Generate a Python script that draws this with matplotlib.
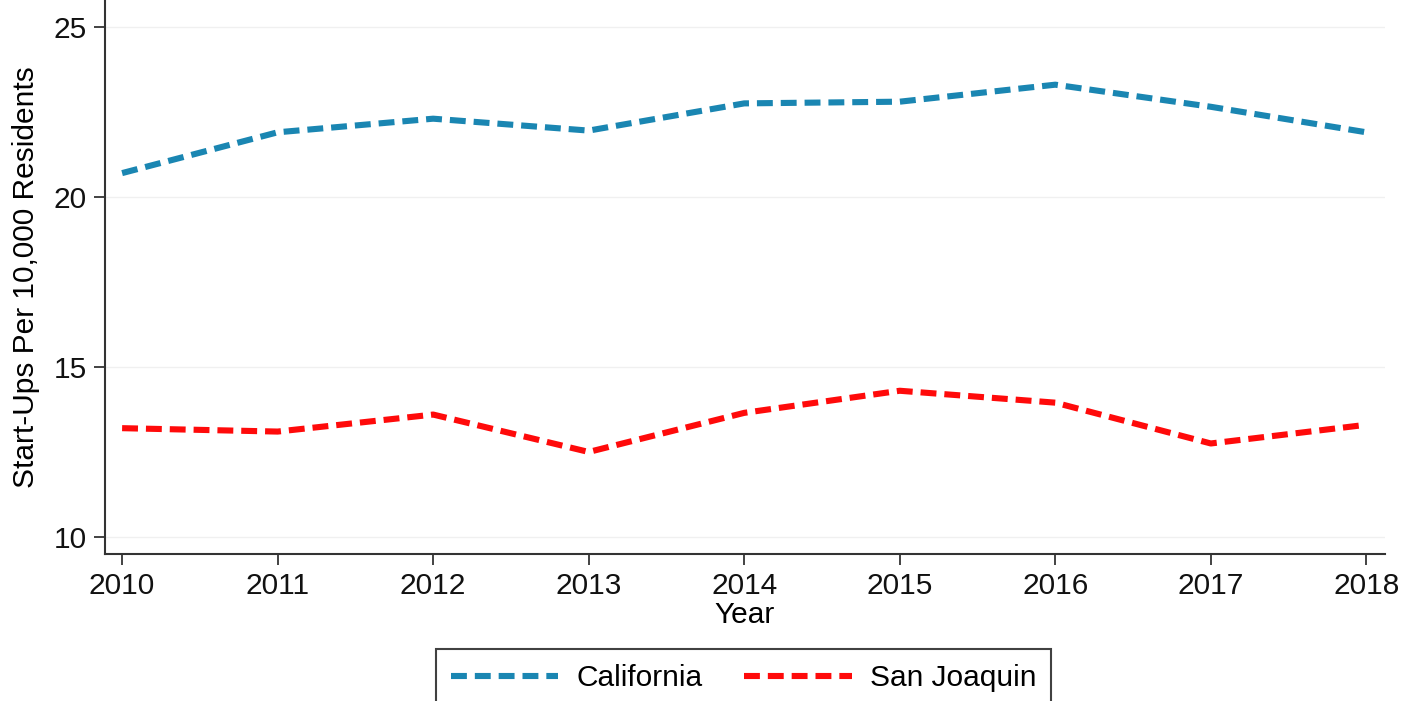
import matplotlib.pyplot as plt

plt.rcParams['font.family'] = ['Liberation Sans', 'DejaVu Sans']

years = [2010, 2011, 2012, 2013, 2014, 2015, 2016, 2017, 2018]
california = [20.7, 21.9, 22.3, 21.95, 22.75, 22.8, 23.3, 22.65, 21.9]
san_joaquin = [13.2, 13.1, 13.6, 12.5, 13.65, 14.3, 13.95, 12.75, 13.3]
y_ticks = [10, 15, 20, 25]

fig = plt.figure(figsize=(14.15, 7.01), dpi=100)
ax = fig.add_axes([0.0742, 0.2097, 0.9046, 0.7903])

ax.plot(years, california, color="#1a86b2", lw=4.4, dashes=[2.6, 1.3],
        label="California", dash_capstyle="butt")
ax.plot(years, san_joaquin, color="#ff0a0a", lw=4.4, dashes=[2.6, 1.3],
        label="San Joaquin", dash_capstyle="butt")

ax.set_xlim(2009.89, 2018.12)
ax.set_ylim(9.5, 25.79)
ax.set_xticks(years)
ax.set_yticks(y_ticks)
ax.tick_params(axis="both", labelsize=21.5, length=8, width=1.2, colors="#222222")
ax.tick_params(axis="y", pad=5)
ax.tick_params(axis="x", pad=5)
for t in ax.get_yticklabels() + ax.get_xticklabels():
    t.set_color("#111111")

for side in ["top", "right"]:
    ax.spines[side].set_visible(False)
for side in ["left", "bottom"]:
    ax.spines[side].set_linewidth(1.5)
    ax.spines[side].set_color("#333333")

ax.grid(axis="y", color="#f0f0f0", lw=1)
ax.set_axisbelow(True)

ax.set_ylabel("Start-Ups Per 10,000 Residents", fontsize=21.5, labelpad=10)
ax.set_xlabel("Year", fontsize=21.5, labelpad=1)

leg = fig.legend(loc="upper center", bbox_to_anchor=(0.5254, 0.095), ncol=2,
                 fontsize=21.5, frameon=True, fancybox=False, handlelength=3.6,
                 columnspacing=1.4, handletextpad=0.6, borderpad=0.5)
leg.get_frame().set_edgecolor("#111111")
leg.get_frame().set_linewidth(1.5)

fig.savefig("out.png", dpi=100)
